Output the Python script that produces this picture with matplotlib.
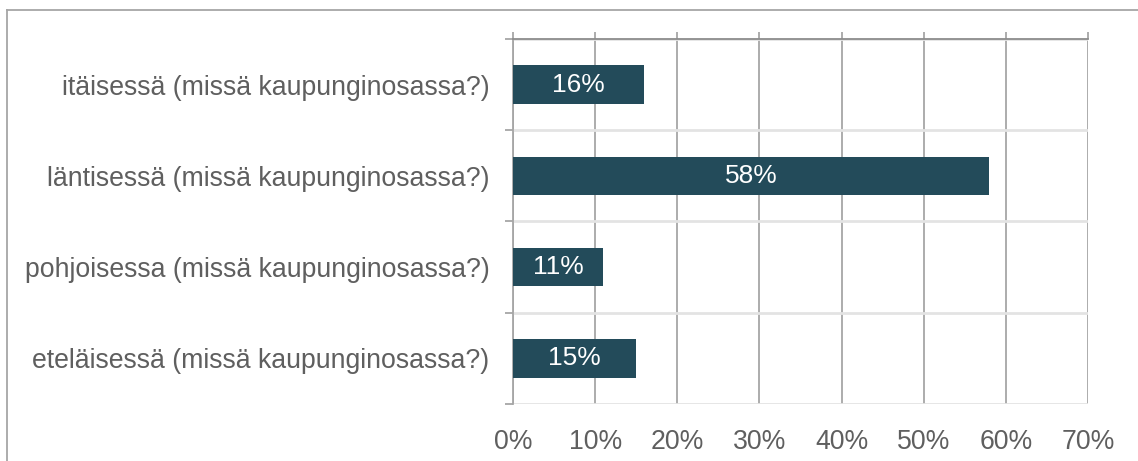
import matplotlib.pyplot as plt
from matplotlib.lines import Line2D

# Data
categories = ["eteläisessä (missä kaupunginosassa?)",
              "pohjoisessa (missä kaupunginosassa?)",
              "läntisessä (missä kaupunginosassa?)",
              "itäisessä (missä kaupunginosassa?)"]
values = [15, 11, 58, 16]

plt.rcParams['font.family'] = ['Liberation Sans', 'DejaVu Sans']

fig = plt.figure(figsize=(11.38, 4.61), dpi=100)
ax = fig.add_axes([513 / 1138, 1 - 404 / 461, 575 / 1138, 365 / 461])

y = range(len(categories))
bars = ax.barh(y, values, height=0.42, color='#234B5A', zorder=3)
for b, v in zip(bars, values):
    ax.text(b.get_width() / 2, b.get_y() + b.get_height() / 2, f"{v}%",
            ha='center', va='center', color='white', fontsize=19, zorder=4)

ax.set_xlim(0, 70)
ax.set_ylim(-0.5, 3.5)
ax.set_xticks(range(0, 71, 10))
ax.set_xticklabels([f"{t}%" for t in range(0, 71, 10)])
ax.set_yticks(list(y))
ax.set_yticklabels(categories)
ax.set_yticks([-0.5, 0.5, 1.5, 2.5, 3.5], minor=True)

# Gitter
ax.grid(axis='x', color='#A6A6A6', linewidth=1.3, zorder=0)
ax.grid(axis='y', which='minor', color='#E3E3E3', linewidth=2, zorder=0)
ax.grid(axis='y', which='major', visible=False)

for s in ['right', 'bottom']:
    ax.spines[s].set_visible(False)
ax.spines['top'].set_color('#8C8C8C')
ax.spines['top'].set_linewidth(1.3)
ax.spines['left'].set_color('#A6A6A6')
ax.spines['left'].set_linewidth(1.3)

ax.tick_params(axis='y', which='major', length=0, pad=17, labelsize=19.2, labelcolor='#5F5F5F')
ax.tick_params(axis='y', which='minor', length=6, width=1.3, color='#A6A6A6', direction='out')
ax.tick_params(axis='x', bottom=False, top=True, length=5, width=1.3, color='#A6A6A6',
               labelsize=19.2, labelcolor='#5F5F5F', pad=13)

# Kehys
fig.add_artist(Line2D([7 / 1138, 1], [1 - 10 / 461, 1 - 10 / 461], color='#A6A6A6', lw=1.3))
fig.add_artist(Line2D([7 / 1138, 7 / 1138], [0, 1 - 10 / 461], color='#A6A6A6', lw=1.3))

plt.savefig("out.png", dpi=100)
